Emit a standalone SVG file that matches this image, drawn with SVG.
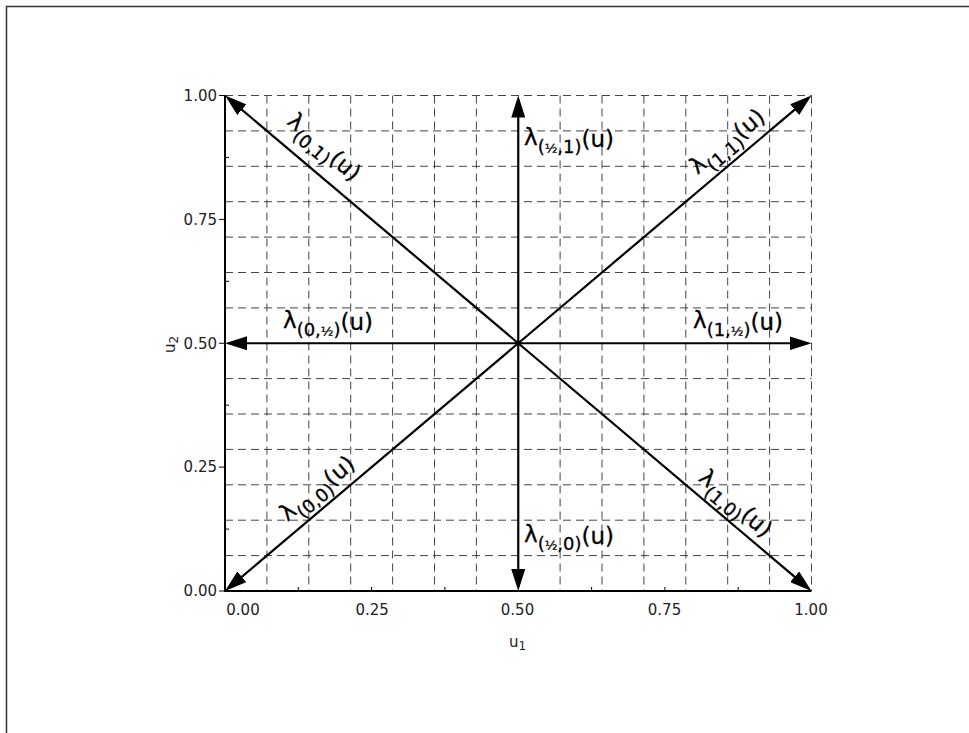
<svg xmlns="http://www.w3.org/2000/svg" width="969" height="733" viewBox="0 0 969 733">
<style>
.grid{stroke:#444;stroke-width:1;stroke-dasharray:8,5;fill:none}
.axis{stroke:#000;stroke-width:2;fill:none}
.tick{stroke:#000;stroke-width:1}
.tl{font-family:"DejaVu Sans",sans-serif;font-size:15px;fill:#222}
.arr{stroke:#000;stroke-width:2.2;fill:none;marker-end:url(#ah)}
.lam{font-family:"DejaVu Sans",sans-serif;font-size:23px;fill:#000;stroke:#000;stroke-width:0.3}
.sub{font-size:18px}
.hf{font-size:13px}
</style>
<defs>
<marker id="ah" viewBox="0 0 22 14" refX="18" refY="7" markerWidth="22" markerHeight="14" orient="auto" markerUnits="userSpaceOnUse">
<path d="M0,0 L22,7 L0,14 Z" fill="#000"/>
</marker>
</defs>
<rect width="969" height="733" fill="#fff"/>
<path d="M6.5,733 V6.5 H969" stroke="#333" stroke-width="1.5" fill="none"/>

<g id="grid">
<path class="grid" d="M266.9,95.5V591M308.8,95.5V591M350.7,95.5V591M392.6,95.5V591M434.5,95.5V591M476.4,95.5V591M560.1,95.5V591M602,95.5V591M643.9,95.5V591M685.8,95.5V591M727.7,95.5V591M769.6,95.5V591M811.5,95.5V591"/>
<path class="grid" d="M225,95.5H811.5M225,130.9H811.5M225,166.3H811.5M225,201.7H811.5M225,237.1H811.5M225,272.5H811.5M225,307.9H811.5M225,378.6H811.5M225,414H811.5M225,449.4H811.5M225,484.8H811.5M225,520.2H811.5M225,555.6H811.5"/>
</g>

<g id="axes">
<path class="axis" d="M225,95.5V591H811.5"/>
<path class="tick" d="M219,95.5H225M219,219.4H225M219,343.25H225M219,467.1H225M219,591H225M225,157.4H229M225,281.3H229M225,405.2H229M225,529.1H229"/>
<path class="tick" d="M298.3,591V587M371.6,591V587M444.9,591V587M591.6,591V587M664.9,591V587M738.2,591V587"/>
<g class="tl" text-anchor="end">
<text x="217" y="100.8">1.00</text>
<text x="217" y="224.7">0.75</text>
<text x="217" y="348.5">0.50</text>
<text x="217" y="472.4">0.25</text>
<text x="217" y="596.3">0.00</text>
</g>
<g class="tl" text-anchor="middle">
<text x="243" y="614.5">0.00</text>
<text x="372.2" y="614.5">0.25</text>
<text x="517.5" y="614.5">0.50</text>
<text x="664.5" y="614.5">0.75</text>
<text x="811" y="614.5">1.00</text>
</g>
<text class="tl" x="509" y="647">u<tspan font-size="12" dy="3">1</tspan></text>
<text class="tl" transform="translate(175,353) rotate(-90)">u<tspan font-size="12" dy="3">2</tspan></text>
</g>

<g id="connectors">
<line class="arr" x1="518.25" y1="343.25" x2="228.1" y2="98.1"/>
<line class="arr" x1="518.25" y1="343.25" x2="808.4" y2="98.1"/>
<line class="arr" x1="518.25" y1="343.25" x2="228.1" y2="588.4"/>
<line class="arr" x1="518.25" y1="343.25" x2="808.4" y2="588.4"/>
<line class="arr" x1="518.25" y1="343.25" x2="518.25" y2="99.5"/>
<line class="arr" x1="518.25" y1="343.25" x2="518.25" y2="587"/>
<line class="arr" x1="518.25" y1="343.25" x2="229" y2="343.25"/>
<line class="arr" x1="518.25" y1="343.25" x2="807.5" y2="343.25"/>
</g>

<g id="label-half-1"><text class="lam" x="524" y="145">λ<tspan class="sub" dy="8">(<tspan class="hf">½</tspan>,1)</tspan><tspan dy="-6">(u)</tspan></text></g>
<g id="label-half-0"><text class="lam" x="524" y="542">λ<tspan class="sub" dy="8">(<tspan class="hf">½</tspan>,0)</tspan><tspan dy="-6">(u)</tspan></text></g>
<g id="label-0-half"><text class="lam" x="283" y="328">λ<tspan class="sub" dy="8">(0,<tspan class="hf">½</tspan>)</tspan><tspan dy="-6">(u)</tspan></text></g>
<g id="label-1-half"><text class="lam" x="693" y="328">λ<tspan class="sub" dy="8">(1,<tspan class="hf">½</tspan>)</tspan><tspan dy="-6">(u)</tspan></text></g>

<g id="label-0-1"><text class="lam" text-anchor="middle" transform="translate(320,152) rotate(40.2)">λ<tspan class="sub" dy="8">(0,1)</tspan><tspan dy="-6">(u)</tspan></text></g>
<g id="label-1-1"><text class="lam" text-anchor="middle" transform="translate(731.5,146.3) rotate(-40.2)">λ<tspan class="sub" dy="8">(1,1)</tspan><tspan dy="-6">(u)</tspan></text></g>
<g id="label-0-0"><text class="lam" text-anchor="middle" transform="translate(321.5,493.3) rotate(-40.2)">λ<tspan class="sub" dy="8">(0,0)</tspan><tspan dy="-6">(u)</tspan></text></g>
<g id="label-1-0"><text class="lam" text-anchor="middle" transform="translate(731.5,508.3) rotate(40.2)">λ<tspan class="sub" dy="8">(1,0)</tspan><tspan dy="-6">(u)</tspan></text></g>
</svg>
